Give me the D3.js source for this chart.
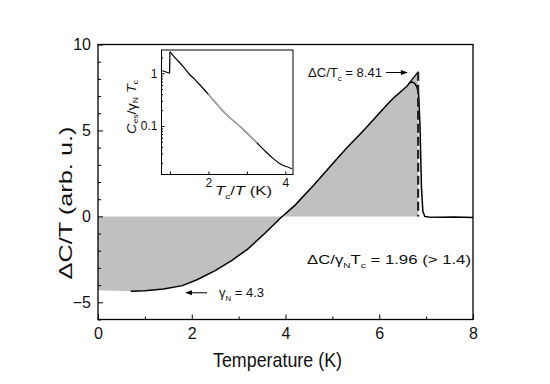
<!DOCTYPE html>
<html>
<head>
<meta charset="utf-8">
<script src="https://cdn.jsdelivr.net/npm/d3@7"></script>
<style>
body{margin:0;background:#fff}
text{font-family:"Liberation Sans",Arial,sans-serif;fill:#111}
</style>
</head>
<body>
<div id="graphHolder"></div>
<script>
// main curve: temperature (K) vs deltaC/T (arb. u.)
const tempK = [0.7, 1.0, 1.4, 1.8, 2.1, 2.5, 2.85, 3.2, 3.55, 3.9, 4.2, 4.6, 5.0, 5.3, 5.7, 6.0, 6.2, 6.35, 6.5, 6.6, 6.65, 6.7, 6.75, 6.8, 6.84, 6.87, 6.9, 6.93, 6.97, 7.05, 7.3, 7.6, 8.0]
const dCT   = [-4.35, -4.33, -4.23, -4.03, -3.7, -3.16, -2.57, -1.89, -1.01, -0.08, 0.64, 1.81, 3.05, 3.96, 5.1, 6.0, 6.6, 7.0, 7.35, 7.6, 7.78, 7.82, 7.75, 7.55, 7.1, 5.2, 1.7, 0.3, 0.0, -0.03, -0.05, -0.04, -0.06]
// idealised jump at Tc
const idealT = [6.63, 6.83]
const idealV = [7.72, 8.41]
const tcK = 6.83
const gammaN = -4.3
// inset: Ces/gammaN Tc vs Tc/T
const insetX = [0.8, 0.9, 0.99, 1.0, 1.1, 1.2, 1.35, 1.5, 1.65, 1.8, 2.0, 2.2, 2.4, 2.6, 2.83, 3.05, 3.26, 3.5, 3.69, 3.85, 4.0, 4.1, 4.17]
const insetY = [1.12, 1.06, 1.0, 2.57, 2.1, 1.75, 1.33, 0.97, 0.76, 0.58, 0.4, 0.27, 0.186, 0.135, 0.097, 0.068, 0.048, 0.032, 0.024, 0.0195, 0.0172, 0.0163, 0.0152]
const insetGray = [2.0, 3.3]
const xTicks = [0, 2, 4, 6, 8]
const yTicks = [-5, 0, 5, 10]

const width = 550, height = 384
const svg = d3.select('#graphHolder').append('svg')
	.attr('width', width).attr('height', height)

const x = d3.scaleLinear().domain([0, 8]).range([98, 473])
const y = d3.scaleLinear().domain([-6, 10]).range([319.5, 44.5])

// helper for text with sub scripts / italics
function richText(sel, parts, size, sub){
	const t = sel.append('text').attr('font-size', size)
	const off = size * (sub || 0.3)
	let shifted = false
	parts.forEach(p => {
		const ts = t.append('tspan').text(p[0])
		if(p[1] && p[1].indexOf('it') >= 0) ts.attr('font-style', 'italic')
		if(p[1] && p[1].indexOf('sub') >= 0){
			ts.attr('font-size', size * 0.6).attr('dy', shifted ? 0 : off)
			shifted = true
		}else if(shifted){
			ts.attr('dy', -off)
			shifted = false
		}
	})
	return t
}

// gray area
const fillPts = [[0, 0], [0, gammaN]]
tempK.forEach((t, i) => { if(t <= idealT[0]) fillPts.push([t, dCT[i]]) })
idealT.forEach((t, i) => fillPts.push([t, idealV[i]]))
fillPts.push([tcK, 0])
svg.append('path')
	.attr('d', d3.line().x(d => x(d[0])).y(d => y(d[1]))(fillPts) + 'Z')
	.attr('fill', '#c0c0c0')

// curve
svg.append('path')
	.datum(tempK.map((t, i) => [t, dCT[i]]))
	.attr('d', d3.line().x(d => x(d[0])).y(d => y(d[1])))
	.attr('fill', 'none').attr('stroke', '#000').attr('stroke-width', 1.5)
svg.append('path')
	.datum(idealT.map((t, i) => [t, idealV[i]]))
	.attr('d', d3.line().x(d => x(d[0])).y(d => y(d[1])))
	.attr('fill', 'none').attr('stroke', '#000').attr('stroke-width', 1.3)
svg.append('line')
	.attr('x1', x(tcK)).attr('x2', x(tcK))
	.attr('y1', y(idealV[1])).attr('y2', y(0))
	.attr('stroke', '#222').attr('stroke-width', 2.2).attr('stroke-dasharray', '9,4')

// axes
function styleAxis(g){
	g.select('.domain').remove()
	g.selectAll('line').attr('stroke', '#000').attr('stroke-width', 1)
	g.selectAll('text').attr('font-size', 16).attr('font-family', '"Liberation Sans",Arial,sans-serif').attr('fill', '#111')
}
svg.append('g').attr('transform', `translate(0,${y(-6)})`)
	.call(d3.axisBottom(x).tickValues(xTicks).tickSize(-5).tickPadding(8).tickFormat(d3.format('d')))
	.call(styleAxis)
svg.append('g').attr('transform', `translate(0,${y(-6)})`)
	.call(d3.axisBottom(x).tickValues([1, 3, 5, 7]).tickSize(-3).tickFormat(''))
	.call(styleAxis)
svg.append('g').attr('transform', `translate(${x(0)},0)`)
	.call(d3.axisLeft(y).tickValues(yTicks).tickSize(-5).tickPadding(7).tickFormat(d3.format('d')))
	.call(styleAxis)
svg.append('g').attr('transform', `translate(${x(0)},0)`)
	.call(d3.axisLeft(y).tickValues(d3.range(-6, 11).filter(v => v % 5 !== 0)).tickSize(-3).tickFormat(''))
	.call(styleAxis)
svg.append('rect')
	.attr('x', x(0)).attr('y', y(10)).attr('width', x(8) - x(0)).attr('height', y(-6) - y(10))
	.attr('fill', 'none').attr('stroke', '#000').attr('stroke-width', 1.3)

svg.append('text').attr('x', (x(0) + x(8)) / 2 - 8).attr('y', 367)
	.attr('font-size', 21).attr('text-anchor', 'middle')
	.attr('textLength', 129).attr('lengthAdjust', 'spacingAndGlyphs')
	.text('Temperature (K)')
svg.append('g').attr('transform', 'translate(72,203) scale(0.78,1)')
	.append('text').attr('transform', 'rotate(-90)')
	.attr('font-size', 23).attr('text-anchor', 'middle')
	.attr('textLength', 153).attr('lengthAdjust', 'spacingAndGlyphs')
	.text('ΔC/T (arb. u.)')

// annotations
function arrow(x1, x2, yy){
	const dir = x2 > x1 ? 1 : -1
	svg.append('line').attr('x1', x1).attr('x2', x2 - dir * 5).attr('y1', yy).attr('y2', yy)
		.attr('stroke', '#000').attr('stroke-width', 1)
	svg.append('path')
		.attr('d', `M${x2},${yy}L${x2 - dir * 7},${yy - 2.5}L${x2 - dir * 7},${yy + 2.5}Z`)
		.attr('fill', '#000')
}
richText(svg, [['ΔC/T'], ['c', 'sub'], [' = 8.41']], 13)
	.attr('x', 308).attr('y', 77)
	.attr('textLength', 74).attr('lengthAdjust', 'spacingAndGlyphs')
arrow(386, x(6.61), 72.5)
richText(svg, [['ΔC/'], ['γ'], ['N', 'sub'], ['T'], ['c', 'sub'], [' = 1.96 (> 1.4)']], 13)
	.attr('x', 307).attr('y', 264)
	.attr('textLength', 164).attr('lengthAdjust', 'spacingAndGlyphs')
richText(svg, [['γ'], ['N', 'sub'], [' = 4.3']], 13)
	.attr('x', 219).attr('y', 297)
arrow(207, 185, y(gammaN) + 2.5)

// inset
const ix = d3.scaleLinear().domain([0.78, 4.2]).range([161.5, 293])
const iy = d3.scaleLog().domain([0.012, 2.77]).range([174.5, 50])
svg.append('rect')
	.attr('x', ix(0.78)).attr('y', iy(2.77)).attr('width', ix(4.2) - ix(0.78)).attr('height', iy(0.012) - iy(2.77))
	.attr('fill', '#fff')
const iline = d3.line().x(d => ix(d[0])).y(d => iy(d[1])).curve(d3.curveMonotoneX)
const insetPts = insetX.map((v, i) => [v, insetY[i]])
svg.append('path').datum(insetPts.slice(0, 3)).attr('d', iline)
	.attr('fill', 'none').attr('stroke', '#000').attr('stroke-width', 1.2)
svg.append('path').datum(insetPts.slice(2, 4)).attr('d', d3.line().x(d => ix(d[0])).y(d => iy(d[1])))
	.attr('fill', 'none').attr('stroke', '#000').attr('stroke-width', 1.2)
svg.append('path').datum(insetPts.slice(3)).attr('d', iline)
	.attr('fill', 'none').attr('stroke', '#000').attr('stroke-width', 1.2)
// gray section of the inset curve
const grayPts = insetPts.filter(d => d[0] >= insetGray[0] && d[0] <= insetGray[1])
svg.append('path').datum(grayPts).attr('d', iline)
	.attr('fill', 'none').attr('stroke', '#aaa').attr('stroke-width', 1.5)

function styleInset(g){
	g.select('.domain').remove()
	g.selectAll('line').attr('stroke', '#000').attr('stroke-width', 1)
	g.selectAll('text').attr('font-size', 12).attr('font-family', '"Liberation Sans",Arial,sans-serif').attr('fill', '#111')
}
svg.append('g').attr('transform', `translate(0,${iy(0.012)})`)
	.call(d3.axisBottom(ix).tickValues([1, 2, 3, 4]).tickSize(-3).tickPadding(4).tickFormat(d => d % 2 === 0 ? d : ''))
	.call(styleInset)
const minorLog = []
;[0.01, 0.1, 1].forEach(dec => { for(let k = 2; k <= 9; k++){ const v = dec * k; if(v > 0.012 && v < 2.77) minorLog.push(v) } })
svg.append('g').attr('transform', `translate(${ix(0.78)},0)`)
	.call(d3.axisLeft(iy).tickValues([0.1, 1]).tickSize(-3).tickPadding(4).tickFormat(d => d === 1 ? '1' : '0.1'))
	.call(styleInset)
svg.append('g').attr('transform', `translate(${ix(0.78)},0)`)
	.call(d3.axisLeft(iy).tickValues(minorLog).tickSize(-1.5).tickFormat(''))
	.call(styleInset)
svg.append('rect')
	.attr('x', ix(0.78)).attr('y', iy(2.77)).attr('width', ix(4.2) - ix(0.78)).attr('height', iy(0.012) - iy(2.77))
	.attr('fill', 'none').attr('stroke', '#000').attr('stroke-width', 1)

richText(svg, [['T', 'it'], ['c', 'sub'], ['/'], ['T', 'it'], [' (K)']], 13)
	.attr('x', 215).attr('y', 195)
	.attr('textLength', 57).attr('lengthAdjust', 'spacingAndGlyphs')
const iyl = svg.append('g').attr('transform', 'translate(136,107) scale(0.85,1)')
richText(iyl, [['C', 'it'], ['es', 'sub'], ['/'], ['γ'], ['N', 'sub'], [' '], ['T', 'it'], ['c', 'sub']], 14, 0.2)
	.attr('transform', 'rotate(-90)').attr('text-anchor', 'middle')
	.attr('textLength', 54).attr('lengthAdjust', 'spacingAndGlyphs')
</script>
</body>
</html>
